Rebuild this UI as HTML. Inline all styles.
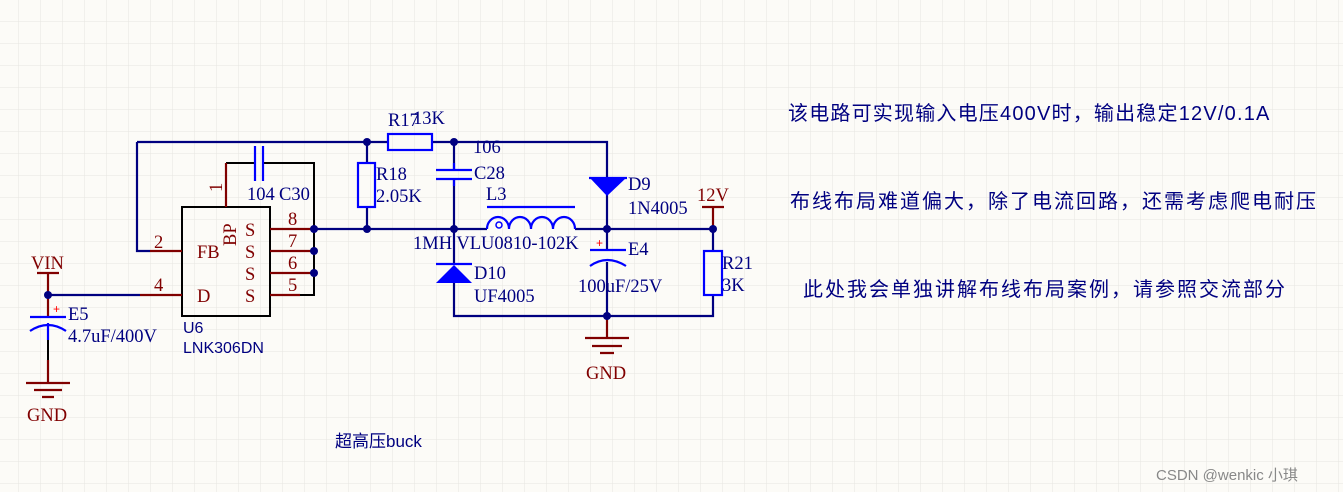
<!DOCTYPE html>
<html><head><meta charset="utf-8"><style>
html,body{margin:0;padding:0;background:#fcfbf7;}
svg{display:block;}
.bl{stroke:#000080;stroke-width:2.2;fill:none}
.rd{stroke:#800000;stroke-width:2.2;fill:none}
.k{stroke:#000;stroke-width:2;fill:none}
.bu{stroke:#0000ff;stroke-width:2.2;fill:none}
.t{font-family:"Liberation Serif",serif;font-size:18.5px;fill:#000080}
.tr{font-family:"Liberation Serif",serif;font-size:18.5px;fill:#800000}
.ts{font-family:"Liberation Sans",sans-serif;font-size:16px;fill:#000080}
.cn{font-family:"Liberation Sans","Noto Sans CJK SC",sans-serif;font-size:20px;fill:#000080;letter-spacing:2px}
</style></head><body>
<svg width="1343" height="492" viewBox="0 0 1343 492" xmlns="http://www.w3.org/2000/svg">
<defs>
<pattern id="g" x="18" y="21" width="22" height="22" patternUnits="userSpaceOnUse">
<path d="M0 0H22M0 0V22" stroke="#e6e6e0" stroke-width="1" fill="none"/>
</pattern>
</defs>
<rect width="1343" height="492" fill="#fcfbf7"/>
<rect width="1343" height="492" fill="url(#g)"/>

<path class="bl" d="M137 142H388M432 142H607V178M137 142V251H150"/>
<path class="bl" d="M48 295H140"/>
<path class="bl" d="M314 229H487M575 229H713V251M367 142V163M367 207V229M454 142V170M454 179V264M454 283V316H713V295M607 195V229V250M607 262V316"/>
<path class="k" d="M226 163H255M263 163H314V295H300"/>
<rect x="182" y="207" width="88" height="109" fill="none" stroke="#000" stroke-width="2"/>
<path class="rd" d="M150 251H182M140 295H182M226 207V163M270 229H314M270 251H314M270 273H314M270 295H300"/>
<text class="tr" x="154" y="248">2</text>
<text class="tr" x="154" y="291">4</text>
<text class="tr" x="222" y="192" transform="rotate(-90 222 192)" text-anchor="start">1</text>
<text class="tr" x="288" y="225">8</text>
<text class="tr" x="288" y="247">7</text>
<text class="tr" x="288" y="269">6</text>
<text class="tr" x="288" y="291">5</text>
<text class="tr" x="197" y="258">FB</text>
<text class="tr" x="197" y="302">D</text>
<text class="tr" x="245" y="236">S</text>
<text class="tr" x="245" y="258">S</text>
<text class="tr" x="245" y="280">S</text>
<text class="tr" x="245" y="302">S</text>
<text class="tr" x="236" y="246" transform="rotate(-90 236 246)">BP</text>
<text class="ts" x="183" y="333">U6</text>
<text class="ts" x="183" y="353">LNK306DN</text>
<path class="bu" d="M255 146V181M263 146V181"/>
<text class="t" x="247" y="200">104</text><text class="t" x="279" y="200">C30</text>
<rect class="bu" x="388" y="134" width="44" height="16"/>
<text class="t" x="388" y="126">R17</text><text class="t" x="413" y="124">13K</text>
<rect class="bu" x="358" y="163" width="17" height="44"/>
<text class="t" x="376" y="180">R18</text><text class="t" x="376" y="202">2.05K</text>
<path class="bu" d="M436 170H472M436 179H472M454 163V170M454 179V186"/>
<text class="t" x="473" y="153">106</text><text class="t" x="474" y="179">C28</text>
<path class="bu" d="M487 229a11 12 0 0 1 22 0a11 12 0 0 1 22 0a11 12 0 0 1 22 0a11 12 0 0 1 22 0M487 207H575"/>
<circle cx="499" cy="225" r="3" fill="none" stroke="#0000ff" stroke-width="1.5"/>
<text class="t" x="486" y="200">L3</text>
<text class="t" x="413" y="249">1MH VLU0810-102K</text>
<path d="M590 178H626L607 196Z" fill="#0000ff"/><path class="bu" d="M589 178H627"/>
<text class="t" x="628" y="190">D9</text><text class="t" x="628" y="214">1N4005</text>
<path d="M436 283H472L454 265Z" fill="#0000ff"/><path class="bu" d="M436 264H472"/>
<text class="t" x="474" y="279">D10</text><text class="t" x="474" y="302">UF4005</text>
<path class="bu" d="M590 250H626M590 266Q607 254 626 266"/>
<text x="596" y="247" font-family="Liberation Sans" font-size="12" fill="#ff0000">+</text>
<text class="t" x="628" y="255">E4</text><text class="t" x="578" y="292">100uF/25V</text>
<rect class="bu" x="704" y="251" width="18" height="44"/>
<text class="t" x="722" y="269">R21</text><text class="t" x="722" y="291">3K</text>
<path class="rd" d="M702 207H724M713 207V229"/>
<text class="tr" x="697" y="201">12V</text>
<path class="rd" d="M607 316V338M585 338H629M592 346H622M600 353H614"/>
<text class="tr" x="586" y="379">GND</text>
<path class="rd" d="M37 273H59M48 273V295V317"/>
<text class="tr" x="31" y="269">VIN</text>
<path class="bu" d="M30 317H66M30 331Q48 319 66 331M48 323V340"/>
<path class="k" d="M48 340V360"/>
<text x="53" y="313" font-family="Liberation Sans" font-size="12" fill="#ff0000">+</text>
<text class="t" x="68" y="320">E5</text><text class="t" x="68" y="342">4.7uF/400V</text>
<path class="rd" d="M48 360V383M26 383H70M34 390H62M42 397H54"/>
<text class="tr" x="27" y="421">GND</text>
<g fill="#000080">
<circle cx="367" cy="142" r="4"/><circle cx="454" cy="142" r="4"/>
<circle cx="314" cy="229" r="4"/><circle cx="367" cy="229" r="4"/><circle cx="454" cy="229" r="4"/>
<circle cx="607" cy="229" r="4"/><circle cx="713" cy="229" r="4"/>
<circle cx="314" cy="251" r="4"/><circle cx="314" cy="273" r="4"/>
<circle cx="48" cy="295" r="4"/><circle cx="607" cy="316" r="4"/>
</g>
<text class="cn" x="788" y="120" style="letter-spacing:1.2px">该电路可实现输入电压400V时，输出稳定12V/0.1A</text>
<text class="cn" x="790" y="208">布线布局难道偏大，除了电流回路，还需考虑爬电耐压</text>
<text class="cn" x="803" y="296">此处我会单独讲解布线布局案例，请参照交流部分</text>
<text class="cn" x="335" y="447" style="font-size:17px;letter-spacing:0">超高压buck</text>
<text x="1156" y="480" font-family="Liberation Sans,'Noto Sans CJK SC',sans-serif" font-size="15" fill="#888">CSDN @wenkic 小琪</text>
</svg>
</body></html>
